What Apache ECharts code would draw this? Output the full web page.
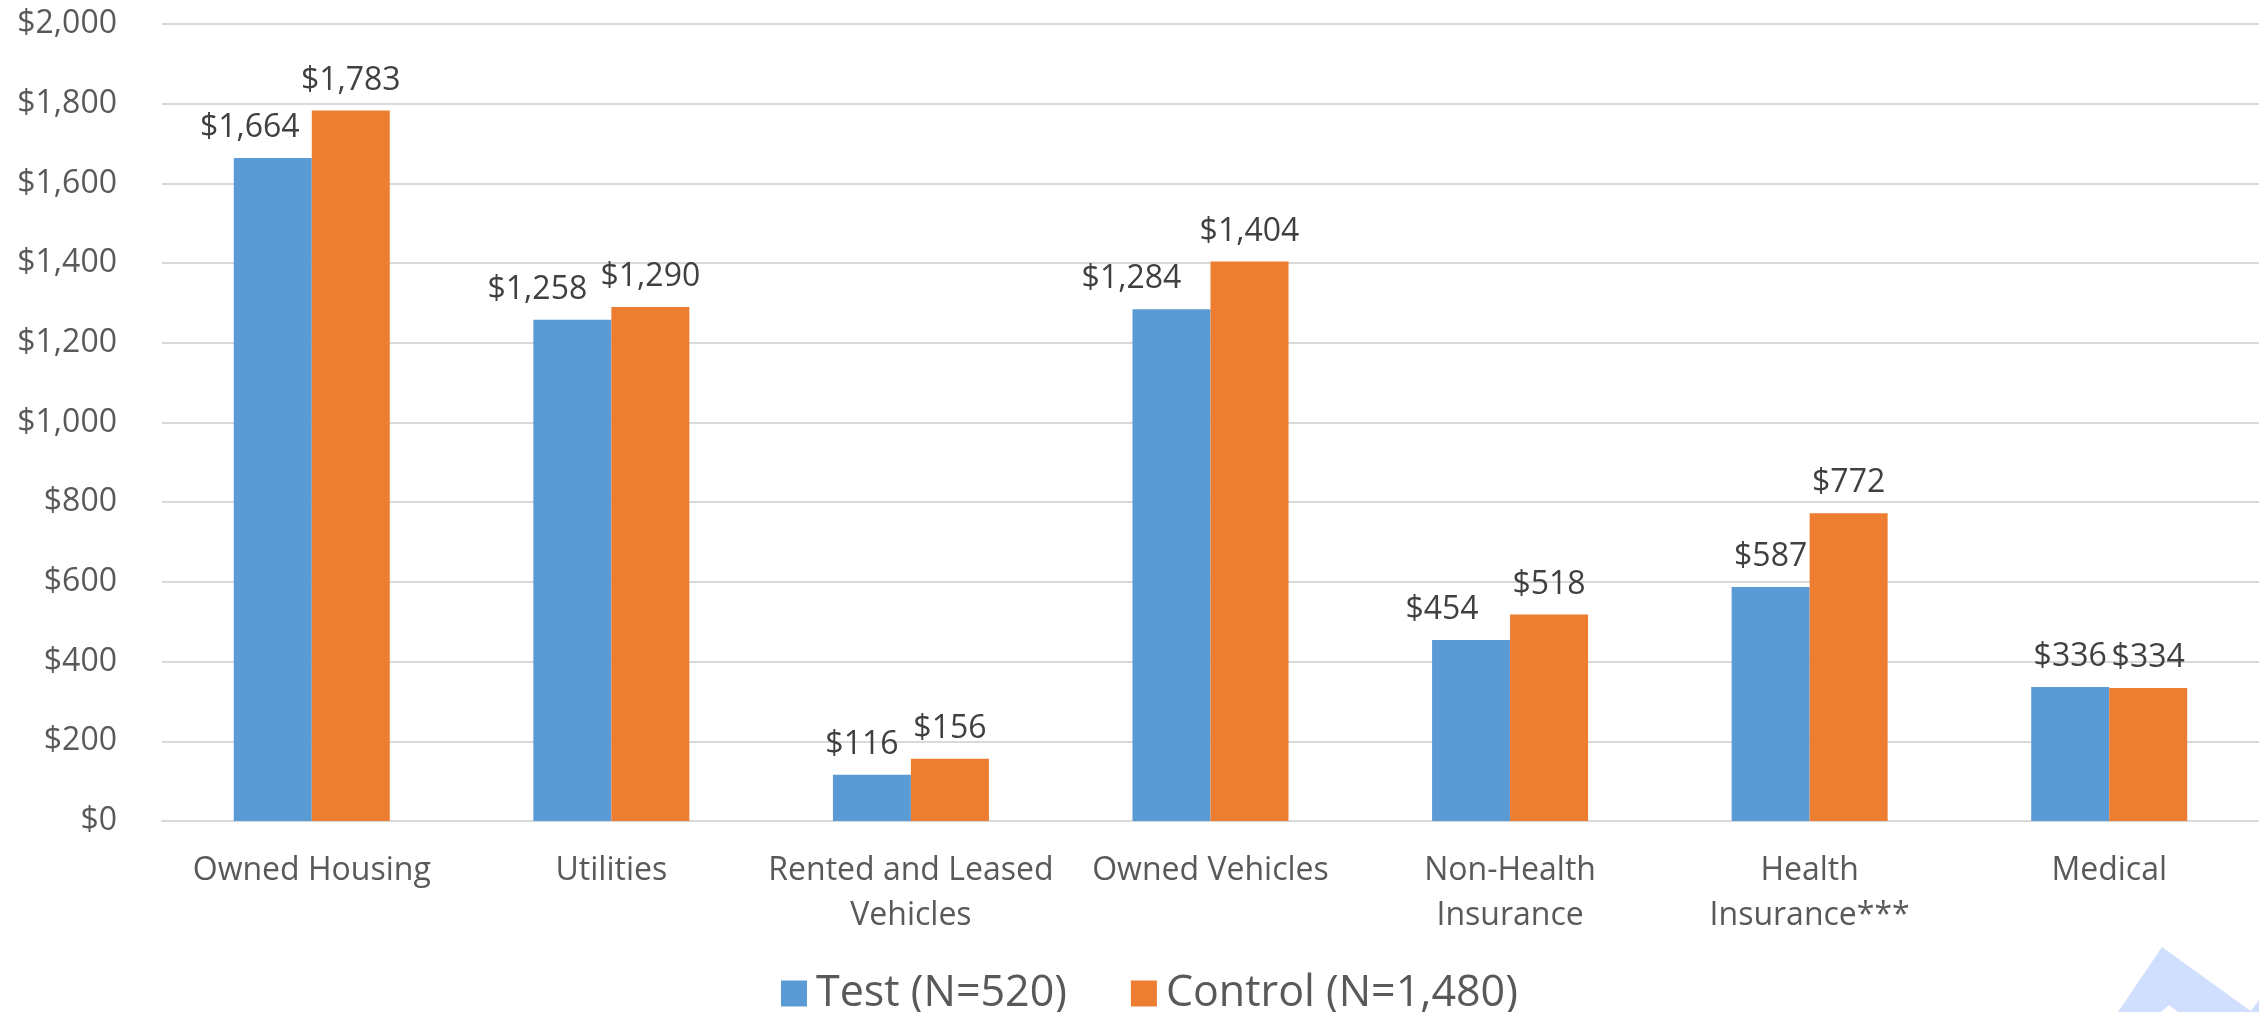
<!DOCTYPE html>
<html>
<head>
<meta charset="utf-8">
<script src="https://cdn.jsdelivr.net/npm/echarts@6/dist/echarts.min.js"></script>
<style>
  html, body { margin: 0; padding: 0; background: #fff; }
  #chart { width: 2259px; height: 1012px; }
</style>
</head>
<body>
<div id="chart"></div>
<script>
// categories and values
var categories = [
  "Owned Housing",
  "Utilities",
  "Rented and Leased\nVehicles",
  "Owned Vehicles",
  "Non-Health\nInsurance",
  "Health\nInsurance***",
  "Medical"
];
var testValues = [1664, 1258, 116, 1284, 454, 587, 336];
var controlValues = [1783, 1290, 156, 1404, 518, 772, 334];
var seriesNames = ["Test (N=520)", "Control (N=1,480)"];

// blue labels were nudged left in the original so they don't hit the orange ones
var testLabelShift = [-23, -35, -10, -40, -29, 0, 0];

var font = "'Open Sans', 'Noto Sans', sans-serif";

function money(v) {
  return "$" + Number(v).toLocaleString("en-US");
}

var chart = echarts.init(document.getElementById("chart"));

var option = {
  backgroundColor: "#ffffff",
  animation: false,
  textStyle: { fontFamily: font },
  color: ["#5b9bd5", "#ed7d31"],
  grid: { left: 162, right: 0, top: 24, bottom: 191 },
  legend: {
    data: seriesNames,
    left: 776,
    top: 967,
    itemWidth: 26,
    itemHeight: 26,
    itemGap: 64,
    icon: "rect",
    textStyle: { fontFamily: font, fontSize: 43, color: "#595959", padding: [0, 0, 0, 4] }
  },
  xAxis: {
    type: "category",
    data: categories,
    axisTick: { show: false },
    axisLine: { lineStyle: { color: "#d9d9d9", width: 2 } },
    axisLabel: {
      interval: 0,
      margin: 27,
      fontSize: 32,
      lineHeight: 45,
      color: "#595959",
      fontFamily: font
    }
  },
  yAxis: {
    type: "value",
    min: 0,
    max: 2000,
    interval: 200,
    axisLine: { show: false },
    axisTick: { show: false },
    splitLine: { lineStyle: { color: "#d9d9d9", width: 2 } },
    axisLabel: {
      margin: 45,
      fontSize: 32,
      color: "#595959",
      fontFamily: font,
      formatter: money
    }
  },
  graphic: [
    {
      type: "polygon",
      silent: true,
      z: -1,
      shape: { points: [[2162, 947], [2252, 1012], [2178, 1012], [2169, 1005], [2161, 1012], [2118, 1012]] },
      style: { fill: "#cfdffd" }
    },
    {
      type: "polygon",
      silent: true,
      z: -1,
      shape: { points: [[2250, 1012], [2259, 1000], [2259, 1012]] },
      style: { fill: "#cfdffd" }
    }
  ],
  series: [
    {
      name: seriesNames[0],
      type: "bar",
      barWidth: 78,
      barGap: "0%",
      data: testValues.map(function (v, i) {
        return { value: v, label: { offset: [testLabelShift[i], 0] } };
      }),
      label: {
        show: true,
        position: "top",
        distance: 14,
        fontSize: 32,
        color: "#404040",
        fontFamily: font,
        formatter: function (p) { return money(p.value); }
      }
    },
    {
      name: seriesNames[1],
      type: "bar",
      barWidth: 78,
      data: controlValues,
      label: {
        show: true,
        position: "top",
        distance: 14,
        fontSize: 32,
        color: "#404040",
        fontFamily: font,
        formatter: function (p) { return money(p.value); }
      }
    }
  ]
};

chart.setOption(option);
</script>
</body>
</html>
